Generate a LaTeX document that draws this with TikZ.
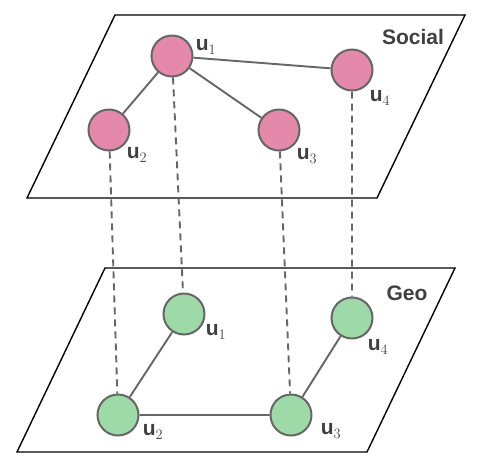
\documentclass[tikz,border=0pt]{standalone}
\usepackage{fontspec}
\setmainfont{Liberation Sans}
\usepackage{tikz}
\usetikzlibrary{backgrounds}
\definecolor{pinkn}{HTML}{E589AB}
\definecolor{greenn}{HTML}{9ED9A8}
\definecolor{edgegray}{HTML}{666666}
\definecolor{titlegray}{HTML}{404040}
\tikzset{
  user/.style={circle, draw=edgegray, line width=2pt, minimum size=41pt, inner sep=0pt},
  soc/.style={user, fill=pinkn},
  geo/.style={user, fill=greenn},
  lbl/.style={font=\fontsize{21}{21}\selectfont, text=titlegray, inner sep=0pt},
  title/.style={font=\fontsize{21}{21}\selectfont\bfseries, text=titlegray},
  link/.style={draw=edgegray, line width=1.9pt},
  cross/.style={draw=edgegray, line width=1.9pt, dash pattern=on 7pt off 5pt}
}
\newcommand{\uname}[1]{\textbf{u}$_{#1}$}

\begin{document}
\begin{tikzpicture}[x=1pt, y=-1pt]
    \useasboundingbox (0,0) rectangle (480,467);

    \node[title] (social) at (413,37) {Social};
    \node[title] (geo) at (407,293) {Geo};

    % social layer
    \node[soc] (s1) at (172,56) {};
    \node[soc] (s2) at (109,130) {};
    \node[soc] (s3) at (279,130) {};
    \node[soc] (s4) at (352,70) {};

    % geo layer
    \node[geo] (g1) at (184,314) {};
    \node[geo] (g2) at (118,415) {};
    \node[geo] (g3) at (291,415) {};
    \node[geo] (g4) at (352,318) {};

    \begin{pgfonlayer}{background}
    % the two planes
    \draw[line width=1.4pt] (115,15) -- (465,15) -- (377,198) -- (27,198) -- cycle;
    \draw[line width=1.4pt] (105,268) -- (455,268) -- (367,452) -- (17,452) -- cycle;

    \draw[cross] (s1) -- (g1)
                 (s2) -- (g2)
                 (s3) -- (g3)
                 (s4) -- (g4);

    \draw[link] (s1) -- (s2)
                (s1) -- (s3)
                (s1) -- (s4)
                (g1) -- (g2)
                (g2) -- (g3)
                (g3) -- (g4);
    \end{pgfonlayer}

    \node[lbl] (s1l) at (206,47) {\uname{1}};
    \node[lbl] (s2l) at (137,155) {\uname{2}};
    \node[lbl] (s3l) at (307,156) {\uname{3}};
    \node[lbl] (s4l) at (380,98) {\uname{4}};
    \node[lbl] (g1l) at (216,332) {\uname{1}};
    \node[lbl] (g2l) at (153,432) {\uname{2}};
    \node[lbl] (g3l) at (331,431) {\uname{3}};
    \node[lbl] (g4l) at (378,347) {\uname{4}};
\end{tikzpicture}
\end{document}
